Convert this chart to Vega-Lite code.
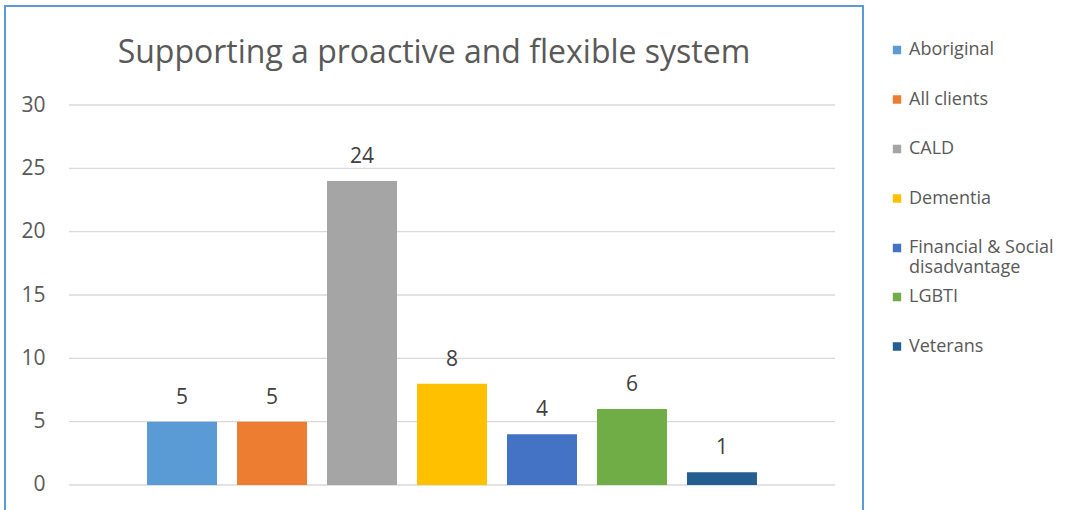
{
  "$schema": "https://vega.github.io/schema/vega-lite/v6.json",
  "width": 858,
  "height": 520,
  "autosize": {"type": "none"},
  "padding": {"left": 5, "top": 6, "right": 205, "bottom": 0},
  "background": "white",
  "config": {"view": {"stroke": "#5B9BD5", "strokeWidth": 2}, "font": "Open Sans"},
  "title": {
    "text": "Supporting a proactive and flexible system",
    "fontSize": 32,
    "fontWeight": "normal",
    "color": "#595959",
    "font": "Open Sans",
    "anchor": "middle",
    "frame": "group",
    "orient": "top",
    "baseline": "middle",
    "offset": 0,
    "dy": 79
  },
  "datasets": {
    "bars": [
      {"category": "Aboriginal", "value": 5},
      {"category": "All clients", "value": 5},
      {"category": "CALD", "value": 24},
      {"category": "Dementia", "value": 8},
      {"category": "Financial & Social disadvantage", "value": 4},
      {"category": "LGBTI", "value": 6},
      {"category": "Veterans", "value": 1}
    ],
    "grid": [{"v": 0}, {"v": 5}, {"v": 10}, {"v": 15}, {"v": 20}, {"v": 25}, {"v": 30}]
  },
  "resolve": {"scale": {"x": "independent"}},
  "layer": [
    {
      "data": {"name": "grid"},
      "mark": {"type": "rule", "color": "#D9D9D9", "strokeWidth": 1.3},
      "encoding": {
        "y": {
          "field": "v",
          "type": "quantitative",
          "scale": {"domain": [-3.237, 37.816], "nice": false, "zero": false},
          "axis": {
            "values": [0, 5, 10, 15, 20, 25, 30],
            "domain": false,
            "ticks": false,
            "grid": false,
            "offset": -44,
            "labelPadding": 4,
            "labelFontSize": 21,
            "labelColor": "#595959",
            "labelFont": "Open Sans",
            "title": null
          }
        },
        "x": {"datum": 0, "type": "quantitative", "axis": null, "scale": {"domain": [0, 1], "range": [64, 830], "nice": false, "zero": false}},
        "x2": {"datum": 1}
      }
    },
    {
      "data": {"name": "bars"},
      "resolve": {"scale": {"color": "independent"}, "legend": {"color": "independent"}},
      "layer": [
        {
          "mark": {"type": "bar"},
          "encoding": {
            "x": {
              "field": "category",
              "type": "nominal",
              "sort": null,
              "axis": null,
              "scale": {
                "type": "band",
                "domain": ["Aboriginal", "All clients", "CALD", "Dementia", "Financial & Social disadvantage", "LGBTI", "Veterans"],
                "range": [64, 830],
                "paddingInner": 0.2222,
                "paddingOuter": 0.867,
                "align": 0.5
              }
            },
            "y": {
              "field": "value",
              "type": "quantitative",
              "stack": null,
              "scale": {"domain": [-3.237, 37.816], "nice": false, "zero": false},
              "axis": {
                "values": [0, 5, 10, 15, 20, 25, 30],
                "domain": false,
                "ticks": false,
                "grid": false,
                "offset": -44,
                "labelPadding": 4,
                "labelFontSize": 21,
                "labelColor": "#595959",
                "labelFont": "Open Sans",
                "title": null
              }
            },
            "y2": {"datum": 0},
            "color": {
              "field": "category",
              "type": "nominal",
              "scale": {
                "domain": ["Aboriginal", "All clients", "CALD", "Dementia", "Financial & Social disadvantage", "LGBTI", "Veterans"],
                "range": ["#5B9BD5", "#ED7D31", "#A5A5A5", "#FFC000", "#4472C4", "#70AD47", "#255E91"]
              },
              "legend": {
                "orient": "none",
                "legendX": 883,
                "legendY": 34,
                "padding": 0,
                "title": null,
                "values": ["Aboriginal", "All clients", "CALD", "Dementia", "Financial & Social disadvantage"],
                "symbolType": "square",
                "symbolSize": 70,
                "symbolStrokeWidth": 0,
                "labelFontSize": 18,
                "labelColor": "#595959",
                "labelFont": "Open Sans",
                "labelOffset": 3,
                "clipHeight": 20,
                "rowPadding": 29.5,
                "labelLimit": 300,
                "labelExpr": "datum.label == 'Financial & Social disadvantage' ? ['Financial & Social', 'disadvantage'] : datum.label"
              }
            }
          }
        },
        {
          "mark": {"type": "bar"},
          "encoding": {
            "x": {"field": "category", "type": "nominal", "sort": null},
            "y": {"datum": 0},
            "y2": {"datum": 0},
            "color": {
              "field": "category",
              "type": "nominal",
              "scale": {
                "domain": ["Aboriginal", "All clients", "CALD", "Dementia", "Financial & Social disadvantage", "LGBTI", "Veterans"],
                "range": ["#5B9BD5", "#ED7D31", "#A5A5A5", "#FFC000", "#4472C4", "#70AD47", "#255E91"]
              },
              "legend": {
                "orient": "none",
                "legendX": 883,
                "legendY": 281,
                "padding": 0,
                "title": null,
                "values": ["LGBTI", "Veterans"],
                "symbolType": "square",
                "symbolSize": 70,
                "symbolStrokeWidth": 0,
                "labelFontSize": 18,
                "labelColor": "#595959",
                "labelFont": "Open Sans",
                "labelOffset": 3,
                "clipHeight": 20,
                "rowPadding": 29.5,
                "labelLimit": 300
              }
            }
          }
        },
        {
          "mark": {"type": "text", "dy": -24, "fontSize": 21, "color": "#404040", "baseline": "middle", "font": "Open Sans"},
          "encoding": {
            "x": {"field": "category", "type": "nominal", "sort": null},
            "y": {"field": "value", "type": "quantitative"},
            "text": {"field": "value", "type": "quantitative"}
          }
        }
      ]
    }
  ]
}
